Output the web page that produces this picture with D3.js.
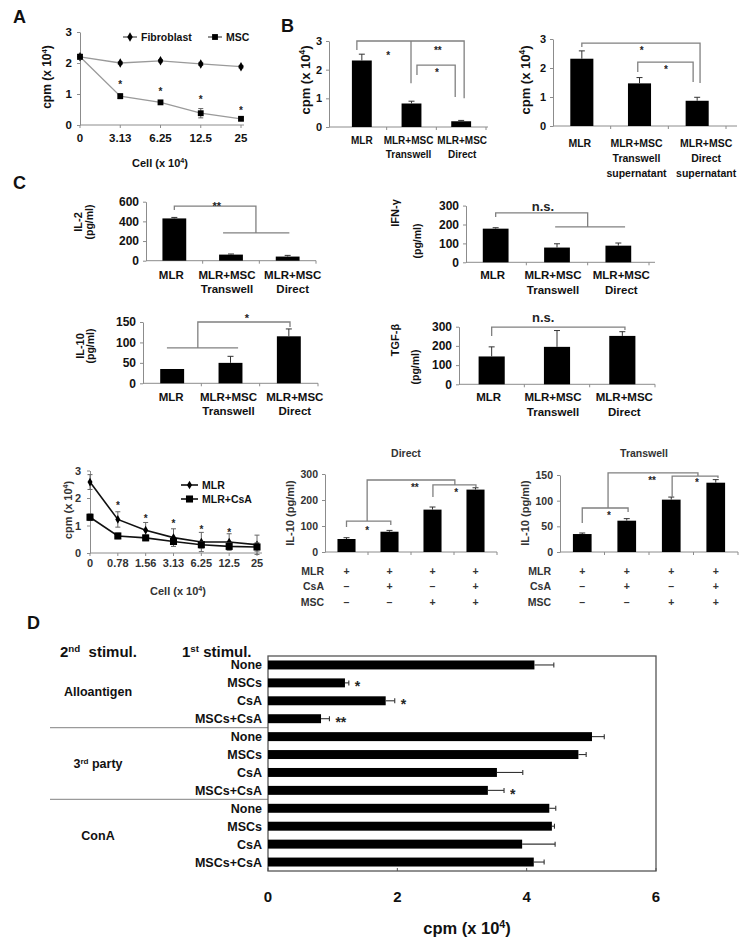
<!DOCTYPE html>
<html>
<head>
<meta charset="utf-8">
<script src="https://cdn.jsdelivr.net/npm/d3@7"></script>
<style>
  body { margin: 0; background: #fff; }
  svg { display: block; }
  .mark { opacity: 0.99; }
</style>
</head>
<body>
<script>
// ---------- data: panel A (MLR + added cells) ----------
const cellDosesA = ["0", "3.13", "6.25", "12.5", "25"];
const fibroblastCpm = [2.2, 2.0, 2.07, 1.97, 1.88];
const fibroblastErr = [0.08, 0.04, 0.04, 0.05, 0.04];
const mscCpm = [2.2, 0.93, 0.73, 0.38, 0.2];
const mscErr = [0.08, 0.08, 0.05, 0.15, 0.04];
const mscStarsAt = [null, 1.4, 1.15, 0.9, 0.55];

// ---------- panel B ----------
const groupsB = [["MLR"], ["MLR+MSC", "Transwell"], ["MLR+MSC", "Direct"]];
const cpmB = [2.32, 0.82, 0.2];
const cpmErrB = [0.22, 0.08, 0.03];
const bracketsB = [
  [[-0.1, 2.69], [-0.1, 3.0], [2.06, 3.0], [2.06, 1.0]],
  [[0.99, 3.0], [0.99, 1.53]],
  [[1.11, 1.81], [1.11, 2.16], [1.88, 2.16], [1.88, 1.05]]
];
const marksB = [[0.53, 2.58, "*"], [1.53, 2.76, "**"], [1.51, 1.99, "*"]];

const groupsBsup = [["MLR"], ["MLR+MSC", "Transwell", "supernatant"], ["MLR+MSC", "Direct", "supernatant"]];
const cpmBsup = [2.32, 1.47, 0.87];
const cpmErrBsup = [0.27, 0.2, 0.12];
const bracketsBsup = [
  [[0, 2.72], [0, 2.86], [2.05, 2.86], [2.05, 1.48]],
  [[0.97, 1.86], [0.97, 2.2], [1.93, 2.2], [1.93, 1.52]]
];
const marksBsup = [[1.04, 2.69, "*"], [1.46, 2.03, "*"]];

// ---------- panel C: cytokines ----------
const groupsC = [["MLR"], ["MLR+MSC", "Transwell"], ["MLR+MSC", "Direct"]];
const il2 = [430, 62, 42];
const il2Err = [10, 6, 12];
const bracketsIL2 = [
  [[0, 516], [0, 556], [1.44, 556], [1.44, 282]],
  [[0.86, 282], [2.03, 282]]
];
const marksIL2 = [[0.75, 587, "**"]];

const ifng = [178, 78, 88];
const ifngErr = [5, 20, 14];
const bracketsIFN = [
  [[0, 240], [0, 261], [1.5, 261], [1.5, 187]],
  [[0.97, 187], [2.11, 187]]
];
const marksIFN = [[0.77, 292, "n.s."]];

const il10 = [35, 50, 115];
const il10Err = [0, 16, 18];
const bracketsIL10 = [
  [[2.02, 138], [2.02, 150], [0.44, 150], [0.44, 86.5]],
  [[-0.09, 86.5], [1.13, 86.5]]
];
const marksIL10 = [[1.28, 165, "*"]];

const tgfb = [145, 195, 252];
const tgfbErr = [50, 85, 22];
const bracketsTGF = [[[0, 252], [0, 298], [2.04, 298], [2.04, 283]]];
const marksTGF = [[0.79, 346, "n.s."]];

// ---------- panel C: CsA ----------
const cellDosesCsA = ["0", "0.78", "1.56", "3.13", "6.25", "12.5", "25"];
const mlrCpm = [2.58, 1.22, 0.83, 0.56, 0.4, 0.4, 0.3];
const mlrErr = [0.27, 0.28, 0.28, 0.32, 0.35, 0.3, 0.35];
const mlrCsaCpm = [1.3, 0.62, 0.55, 0.42, 0.3, 0.24, 0.22];
const mlrCsaErr = [0.12, 0.1, 0.1, 0.1, 0.12, 0.12, 0.15];
const mlrStarsAt = [null, 1.82, 1.35, 1.16, 0.95, 0.84, null];

const conditionNames = ["MLR", "CsA", "MSC"];
const conditionSigns = [["+", "+", "+", "+"], ["–", "+", "–", "+"], ["–", "–", "+", "+"]];
const il10Direct = [50, 78, 163, 240];
const il10DirectErr = [5, 5, 10, 7];
const bracketsDirect = [
  [[0, 96], [0, 119], [1.03, 119], [1.03, 104]],
  [[2.01, 212], [2.01, 258], [3.01, 258], [3.01, 250]],
  [[0.48, 119], [0.48, 277], [2.52, 277], [2.52, 258]]
];
const marksDirect = [[0.48, 92, "*"], [2.55, 238, "*"], [1.59, 258, "**"]];

const il10Transwell = [35, 61, 102, 135];
const il10TranswellErr = [2, 4, 5, 6];
const bracketsTranswell = [
  [[0, 56.5], [0, 85.7], [1.03, 85.7], [1.03, 78]],
  [[2.02, 107], [2.02, 148], [3.05, 148], [3.05, 144]],
  [[0.58, 85.7], [0.58, 154], [2.6, 154], [2.6, 148]]
];
const marksTranswell = [[0.6, 76, "*"], [2.58, 140, "*"], [1.57, 144, "**"]];

// ---------- panel D ----------
const secondStim = ["Alloantigen", "3^rd party", "ConA"];
const firstStim = ["None", "MSCs", "CsA", "MSCs+CsA"];
const cpmD = [4.12, 1.19, 1.82, 0.82, 5.01, 4.8, 3.54, 3.4, 4.35, 4.39, 3.93, 4.11];
const cpmErrD = [0.3, 0.06, 0.14, 0.13, 0.19, 0.12, 0.4, 0.25, 0.1, 0.04, 0.51, 0.16];
const sigD = ["", "*", "*", "**", "", "", "", "*", "", "", "", ""];
const ticksD = [0, 2, 4, 6];

// ---------- drawing ----------
const FONT = "Arial, 'Liberation Sans', Helvetica, sans-serif";
const INK = "#111";
const AXIS = "#8c8c8c";
const BRACKET = "#808080";
const ERR = "#333";

const svg = d3.select("body").append("svg")
  .attr("width", 753).attr("height", 947)
  .attr("font-family", FONT);
svg.append("rect").attr("width", 753).attr("height", 947).attr("fill", "#fff");

// text with ^superscript parts
function txt(g, x, y, str, size, o = {}) {
  const t = g.append("text")
    .attr("x", x).attr("y", y)
    .attr("font-size", size)
    .attr("font-weight", o.weight || "bold")
    .attr("fill", o.fill || INK)
    .attr("text-anchor", o.anchor || "start")
    .style("white-space", "pre");
  if (o.cls) t.attr("class", o.cls);
  if (o.dy) t.attr("dy", o.dy);
  if (o.rotate) t.attr("transform", `rotate(-90,${ x },${ y })`);
  String(str).split(/(\^\w+)/).filter(s => s).forEach(s => {
    if (s[0] === "^")
      t.append("tspan").attr("font-size", size * 0.65).attr("baseline-shift", "super").text(s.slice(1));
    else
      t.append("tspan").text(s);
  });
  return t;
}

function yAxis(g, y, x, ticks, size, pad, fill) {
  const a = g.append("g").attr("transform", `translate(${ x },0)`)
    .call(d3.axisLeft(y).tickValues(ticks).tickFormat(d3.format("d"))
      .tickSize(3).tickSizeOuter(0).tickPadding(pad));
  a.attr("font-family", FONT);
  a.select(".domain").attr("stroke", AXIS);
  a.selectAll(".tick line").attr("stroke", AXIS);
  a.selectAll(".tick text").attr("font-size", size).attr("font-weight", "bold").attr("fill", fill || INK);
  return a;
}

function barChart(c) {
  const g = svg.append("g");
  const n = c.values.length;
  const x = d3.scaleBand().domain(d3.range(n)).range([c.x0, c.x1])
    .paddingInner(c.pad).paddingOuter(c.pad / 2);
  const ix = d3.scaleLinear().domain([-0.5, n - 0.5]).range([c.x0, c.x1]);
  const y = d3.scaleLinear().domain([0, c.yMax]).range([c.yBase, c.yTop]);

  yAxis(g, y, c.axisX, c.ticks, c.tickFont, 4, c.tickFill);
  g.append("line")
    .attr("x1", c.axisX).attr("x2", c.axisEnd)
    .attr("y1", c.yBase).attr("y2", c.yBase)
    .attr("stroke", AXIS);
  g.selectAll(".xtick").data(d3.range(1, n + 1)).join("line")
    .attr("class", "xtick")
    .attr("x1", i => ix(i - 0.5)).attr("x2", i => ix(i - 0.5))
    .attr("y1", c.yBase).attr("y2", c.yBase + 3)
    .attr("stroke", AXIS);

  g.selectAll(".bar").data(c.values).join("rect")
    .attr("class", "bar")
    .attr("x", (d, i) => x(i))
    .attr("y", d => y(d))
    .attr("width", x.bandwidth())
    .attr("height", d => c.yBase - y(d))
    .attr("fill", "#000");

  // error bars (upper only)
  c.values.forEach((v, i) =>
  {
    const e = c.errors[i];
    if (!e) return;
    const cx = ix(i);
    g.append("line").attr("x1", cx).attr("x2", cx).attr("y1", y(v)).attr("y2", y(v + e))
      .attr("stroke", ERR).attr("stroke-width", 1);
    g.append("line").attr("x1", cx - 3).attr("x2", cx + 3).attr("y1", y(v + e)).attr("y2", y(v + e))
      .attr("stroke", ERR).attr("stroke-width", 1);
  });

  // significance brackets
  const path = d3.line().x(p => ix(p[0])).y(p => y(p[1]));
  g.selectAll(".bracket").data(c.brackets || []).join("path")
    .attr("class", "bracket")
    .attr("d", path)
    .attr("fill", "none")
    .attr("stroke", BRACKET)
    .attr("stroke-width", 1.3);
  (c.marks || []).forEach(([i, v, s]) =>
    txt(g, ix(i), y(v), s, s.includes("*") ? c.starFont : c.starFont + 2,
      { anchor: "middle", dy: s.includes("*") ? "0.6em" : "0.28em", fill: "#222", cls: "mark" }));

  if (c.labels)
  {
    const dx = c.labelDx || c.labels.map(() => 0);
    c.labels.forEach((lines, i) =>
      lines.forEach((s, k) =>
        txt(g, ix(i) + dx[i], c.labelY + k * c.labelGap, s, c.labelFont, { anchor: "middle" })));
  }
  return { g, x, ix, y };
}

function lineChart(c) {
  const g = svg.append("g");
  const x = d3.scalePoint().domain(c.doses).range([c.x0, c.x1]);
  const y = d3.scaleLinear().domain([0, c.yMax]).range([c.yBase, c.yTop]);

  yAxis(g, y, c.x0, c.ticks, c.tickFont, c.tickPad, c.tickFill);
  g.append("line")
    .attr("x1", c.x0).attr("x2", c.axisEnd)
    .attr("y1", c.yBase).attr("y2", c.yBase)
    .attr("stroke", AXIS);
  c.doses.forEach(d =>
  {
    g.append("line").attr("x1", x(d)).attr("x2", x(d))
      .attr("y1", c.yBase).attr("y2", c.yBase + 3).attr("stroke", AXIS);
    txt(g, x(d), c.tickY, d, c.tickFont, { anchor: "middle", fill: c.tickFill });
  });

  c.series.forEach(s =>
  {
    g.append("path")
      .datum(s.values)
      .attr("d", d3.line().x((v, i) => x(c.doses[i])).y(v => y(v)))
      .attr("fill", "none")
      .attr("stroke", c.lineColor)
      .attr("stroke-width", c.lineWidth);
    s.values.forEach((v, i) =>
    {
      const cx = x(c.doses[i]), e = s.errors[i];
      g.append("line").attr("x1", cx).attr("x2", cx).attr("y1", y(v - e)).attr("y2", y(v + e))
        .attr("stroke", c.errColor).attr("stroke-width", 1);
      [v - e, v + e].forEach(w =>
        g.append("line").attr("x1", cx - 2.5).attr("x2", cx + 2.5).attr("y1", y(w)).attr("y2", y(w))
          .attr("stroke", c.errColor).attr("stroke-width", 1));
    });
    g.selectAll(null).data(s.values).join("path")
      .attr("transform", (v, i) => `translate(${ x(c.doses[i]) },${ y(v) })`)
      .attr("d", d3.symbol(s.symbol, s.size))
      .attr("fill", "#000");
  });

  c.stars.forEach((v, i) =>
  {
    if (v == null) return;
    txt(g, x(c.doses[i]), y(v), "*", c.starFont, { anchor: "middle", dy: "0.6em", fill: "#222", cls: "mark" });
  });

  // legend
  c.legend.forEach(l =>
  {
    const s = c.series[l.series];
    g.append("line").attr("x1", l.x).attr("x2", l.x + l.len).attr("y1", l.y).attr("y2", l.y)
      .attr("stroke", c.legendLine).attr("stroke-width", c.lineWidth);
    g.append("path").attr("transform", `translate(${ l.x + l.len / 2 },${ l.y })`)
      .attr("d", d3.symbol(s.symbol, s.size)).attr("fill", "#000");
    txt(g, l.x + l.len + 4, l.y, s.name, c.legendFont, { dy: "0.36em" });
  });
  return { g, x, y };
}

// ---------- panel letters ----------
txt(svg, 13, 23, "A", 18);
txt(svg, 281, 32, "B", 18);
txt(svg, 13, 189, "C", 18);
txt(svg, 27, 629, "D", 18);

// ---------- A ----------
lineChart({
  doses: cellDosesA, x0: 80, x1: 241, axisEnd: 244,
  yBase: 125, yTop: 32, yMax: 3, ticks: [0, 1, 2, 3],
  tickFont: 11.5, tickPad: 5, tickY: 142, tickFill: INK,
  lineColor: "#9a9a9a", lineWidth: 1.3, errColor: "#666",
  series: [
    { values: fibroblastCpm, errors: fibroblastErr, symbol: d3.symbolDiamond, size: 26, name: "Fibroblast" },
    { values: mscCpm, errors: mscErr, symbol: d3.symbolSquare, size: 34, name: "MSC" }
  ],
  stars: mscStarsAt, starFont: 10,
  legend: [{ series: 0, x: 123, y: 37, len: 14 }, { series: 1, x: 208, y: 37, len: 14 }],
  legendLine: "#555", legendFont: 10.5
});
txt(svg, 47, 77, "cpm (x 10^4)", 12, { rotate: true, anchor: "middle", dy: "0.35em" });
txt(svg, 160, 167, "Cell (x 10^4)", 11, { anchor: "middle" });

// ---------- B ----------
barChart({
  values: cpmB, errors: cpmErrB, labels: groupsB, labelDx: [0, -3, 1],
  x0: 337, x1: 486, axisX: 329, axisEnd: 488, pad: 0.6,
  yBase: 127, yTop: 41, yMax: 3, ticks: [0, 1, 2, 3],
  tickFont: 11, labelFont: 10, labelY: 144, labelGap: 14,
  brackets: bracketsB, marks: marksB, starFont: 10
});
txt(svg, 305, 80, "cpm (x 10^4)", 13, { rotate: true, anchor: "middle", dy: "0.35em" });

barChart({
  values: cpmBsup, errors: cpmErrBsup, labels: groupsBsup, labelDx: [-2, -3, 9],
  x0: 553, x1: 726, axisX: 553, axisEnd: 737, pad: 0.6,
  yBase: 126, yTop: 39, yMax: 3, ticks: [0, 1, 2, 3],
  tickFont: 11, labelFont: 10.5, labelY: 147, labelGap: 15,
  brackets: bracketsBsup, marks: marksBsup, starFont: 10
});
txt(svg, 525, 80, "cpm (x 10^4)", 13, { rotate: true, anchor: "middle", dy: "0.35em" });

// ---------- C: cytokines ----------
barChart({
  values: il2, errors: il2Err, labels: groupsC, labelDx: [-3, -4, 5],
  x0: 146, x1: 316, axisX: 146, axisEnd: 316, pad: 0.58,
  yBase: 260.7, yTop: 201.7, yMax: 600, ticks: [0, 200, 400, 600],
  tickFont: 12, labelFont: 11.5, labelY: 279, labelGap: 14,
  brackets: bracketsIL2, marks: marksIL2, starFont: 11
});
txt(svg, 78, 222, "IL-2", 11, { rotate: true, anchor: "middle", dy: "0.35em" });
txt(svg, 89, 222, "(pg/ml)", 10.5, { rotate: true, anchor: "middle", dy: "0.35em" });

barChart({
  values: ifng, errors: ifngErr, labels: groupsC, labelDx: [-3, -4, 3],
  x0: 465, x1: 649, axisX: 466, axisEnd: 655, pad: 0.58,
  yBase: 262.3, yTop: 205.6, yMax: 300, ticks: [0, 100, 200, 300],
  tickFont: 12, labelFont: 11.5, labelY: 279, labelGap: 15,
  brackets: bracketsIFN, marks: marksIFN, starFont: 11
});
txt(svg, 395, 213, "IFN-γ", 11, { rotate: true, anchor: "middle", dy: "0.35em" });
txt(svg, 417, 241, "(pg/ml)", 10.5, { rotate: true, anchor: "middle", dy: "0.35em" });

barChart({
  values: il10, errors: il10Err, labels: groupsC, labelDx: [-1, -2, 6],
  x0: 143, x1: 318, axisX: 143, axisEnd: 318, pad: 0.59,
  yBase: 383.3, yTop: 322, yMax: 150, ticks: [0, 50, 100, 150],
  tickFont: 12, labelFont: 11.5, labelY: 401, labelGap: 14,
  brackets: bracketsIL10, marks: marksIL10, starFont: 11
});
txt(svg, 80, 346, "IL-10", 11, { rotate: true, anchor: "middle", dy: "0.35em" });
txt(svg, 90, 346, "(pg/ml)", 10.5, { rotate: true, anchor: "middle", dy: "0.35em" });

barChart({
  values: tgfb, errors: tgfbErr, labels: groupsC, labelDx: [-3, -4, 2],
  x0: 459, x1: 655, axisX: 459, axisEnd: 655, pad: 0.6,
  yBase: 384.3, yTop: 326.7, yMax: 300, ticks: [0, 100, 200, 300],
  tickFont: 12, labelFont: 11.5, labelY: 401, labelGap: 15,
  brackets: bracketsTGF, marks: marksTGF, starFont: 11
});
txt(svg, 395, 340, "TGF-β", 11, { rotate: true, anchor: "middle", dy: "0.35em" });
txt(svg, 415, 367, "(pg/ml)", 10.5, { rotate: true, anchor: "middle", dy: "0.35em" });

// ---------- C: CsA ----------
lineChart({
  doses: cellDosesCsA, x0: 90, x1: 257, axisEnd: 262,
  yBase: 553, yTop: 470.5, yMax: 3, ticks: [0, 1, 2, 3],
  tickFont: 11, tickPad: 6, tickY: 567, tickFill: "#333",
  lineColor: "#111", lineWidth: 1.6, errColor: "#666",
  series: [
    { values: mlrCpm, errors: mlrErr, symbol: d3.symbolDiamond, size: 22, name: "MLR" },
    { values: mlrCsaCpm, errors: mlrCsaErr, symbol: d3.symbolSquare, size: 50, name: "MLR+CsA" }
  ],
  stars: mlrStarsAt, starFont: 10,
  legend: [{ series: 0, x: 181, y: 485, len: 17 }, { series: 1, x: 181, y: 499, len: 17 }],
  legendLine: "#111", legendFont: 10.5
});
txt(svg, 68, 510, "cpm (x 10^4)", 11, { rotate: true, anchor: "middle", dy: "0.35em", fill: "#333" });
txt(svg, 178, 595, "Cell (x 10^4)", 11, { anchor: "middle", fill: "#333" });

function csaChart(cfg) {
  const r = barChart({
    values: cfg.values, errors: cfg.errors,
    x0: cfg.x0, x1: cfg.x1, axisX: cfg.x0, axisEnd: cfg.x1, pad: 0.58,
    yBase: 552, yTop: cfg.yTop, yMax: cfg.yMax, ticks: cfg.ticks,
    tickFont: 10.5, tickFill: "#333",
    brackets: cfg.brackets, marks: cfg.marks, starFont: 10
  });
  const rowY = [571, 586.5, 602];
  conditionNames.forEach((name, k) =>
  {
    txt(r.g, cfg.rowRight, rowY[k], name, 10.5, { anchor: "end", dy: "0.35em", fill: "#333" });
    conditionSigns[k].forEach((s, i) =>
      txt(r.g, r.ix(i), rowY[k], s, 10.5, { anchor: "middle", dy: "0.35em", fill: "#333" }));
  });
  txt(r.g, cfg.labelX, 513, "IL-10 (pg/ml)", 11, { rotate: true, anchor: "middle", dy: "0.35em", fill: "#333" });
  txt(r.g, (cfg.x0 + cfg.x1) / 2 - 5, 457, cfg.title, 10.5, { anchor: "middle", fill: "#333" });
}

csaChart({
  values: il10Direct, errors: il10DirectErr, brackets: bracketsDirect, marks: marksDirect,
  x0: 325, x1: 497, yTop: 474, yMax: 300, ticks: [0, 100, 200, 300],
  rowRight: 324, labelX: 290, title: "Direct"
});
csaChart({
  values: il10Transwell, errors: il10TranswellErr, brackets: bracketsTranswell, marks: marksTranswell,
  x0: 560, x1: 738, yTop: 475, yMax: 150, ticks: [0, 50, 100, 150],
  rowRight: 551, labelX: 525, title: "Transwell"
});

// ---------- D ----------
(function panelD() {
  const g = svg.append("g");
  const rows = secondStim.flatMap(s => firstStim.map(f => ({ s, f })));
  const y = d3.scaleBand().domain(d3.range(rows.length)).range([656, 871])
    .paddingInner(0.5).paddingOuter(0.25);
  const x = d3.scaleLinear().domain([0, 6]).range([268, 656]);
  const [x0, x1] = x.range();
  const [y0, y1] = y.range();

  // group separators
  d3.range(1, secondStim.length).forEach(k =>
  {
    const i = k * firstStim.length;
    const yy = (y(i - 1) + y.bandwidth() + y(i)) / 2;
    g.append("line").attr("x1", 50).attr("x2", x0).attr("y1", yy).attr("y2", yy)
      .attr("stroke", "#9a9a9a").attr("stroke-width", 1.2);
  });

  g.append("rect").attr("x", x0).attr("y", y0).attr("width", x1 - x0).attr("height", y1 - y0)
    .attr("fill", "none").attr("stroke", "#555").attr("stroke-width", 1.3);
  ticksD.forEach(t =>
  {
    g.append("line").attr("x1", x(t)).attr("x2", x(t)).attr("y1", y1).attr("y2", y1 - 3)
      .attr("stroke", "#555");
    txt(g, x(t), 902, String(t), 15, { anchor: "middle" });
  });

  g.selectAll(".barD").data(cpmD).join("rect")
    .attr("class", "barD")
    .attr("x", x(0))
    .attr("y", (d, i) => y(i))
    .attr("width", d => x(d) - x(0))
    .attr("height", y.bandwidth())
    .attr("fill", "#000");

  cpmD.forEach((v, i) =>
  {
    const cy = y(i) + y.bandwidth() / 2, e = cpmErrD[i];
    g.append("line").attr("x1", x(v)).attr("x2", x(v + e)).attr("y1", cy).attr("y2", cy)
      .attr("stroke", ERR).attr("stroke-width", 1.1);
    g.append("line").attr("x1", x(v + e)).attr("x2", x(v + e)).attr("y1", cy - 2.5).attr("y2", cy + 2.5)
      .attr("stroke", ERR).attr("stroke-width", 1.1);
    if (sigD[i])
      txt(g, x(v + e) + 6, cy, sigD[i], 14, { dy: "0.6em", fill: "#222", cls: "mark" });
    txt(g, 262, cy, rows[i].f, 12.5, { anchor: "end", dy: "0.36em" });
  });

  secondStim.forEach((s, k) =>
  {
    const idx = d3.range(k * firstStim.length, (k + 1) * firstStim.length);
    const cy = d3.mean(idx, i => y(i) + y.bandwidth() / 2);
    txt(g, 98, cy, s, 12.5, { anchor: "middle", dy: "0.36em" });
  });

  txt(g, 60, 657, "2^nd  stimul.", 15);
  txt(g, 182, 657, "1^st stimul.", 15);
  txt(g, (x0 + x1) / 2 + 5, 934, "cpm (x 10^4)", 16.5, { anchor: "middle" });
})();
</script>
</body>
</html>
